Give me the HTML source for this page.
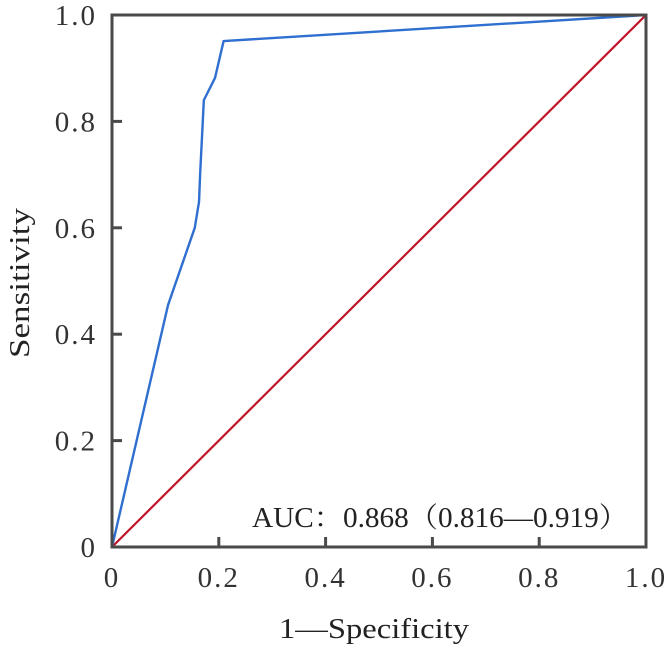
<!DOCTYPE html>
<html><head><meta charset="utf-8"><style>
html,body{margin:0;padding:0;background:#fff;}
svg{display:block;font-family:"Liberation Serif","Noto Serif CJK SC",serif;}
</style></head><body>
<svg id="chart" width="667" height="658" viewBox="0 0 667 658" xmlns="http://www.w3.org/2000/svg"></svg>
<script>
const xTicks=[0,0.2,0.4,0.6,0.8,1.0];
const yTicks=[0,0.2,0.4,0.6,0.8,1.0];
const xTickLabels=["0","0.2","0.4","0.6","0.8","1.0"];
const yTickLabels=["0","0.2","0.4","0.6","0.8","1.0"];
const rocX=[0,0.105,0.155,0.163,0.165,0.172,0.193,0.209,1];
const rocY=[0,0.455,0.6,0.649,0.70,0.84,0.882,0.951,1];
const refX=[0,1];
const refY=[0,1];
const L=112,R=646,T=15,B=547;
const sx=v=>L+v*(R-L), sy=v=>B-v*(B-T);
const svg=document.getElementById('chart');
const NS='http://www.w3.org/2000/svg';
function mk(tag,attrs,parent){const e=document.createElementNS(NS,tag);for(const k in attrs)e.setAttribute(k,attrs[k]);(parent||svg).appendChild(e);return e;}
const ref=mk('polyline',{points:refX.map((x,i)=>sx(x)+','+sy(refY[i])).join(' '),fill:'none',stroke:'#c0142a','stroke-width':2.2});


const roc=mk('polyline',{points:rocX.map((x,i)=>sx(x)+','+sy(rocY[i])).join(' '),fill:'none',stroke:'#2f6fcf','stroke-width':2.4,'stroke-linejoin':'round'});


const frame=mk('rect',{x:L,y:T,width:R-L,height:B-T,fill:'none',stroke:'#4a4a4a','stroke-width':3});


xTicks.forEach((v,i)=>{
  if(i>0&&i<xTicks.length-1){const t=mk('line',{x1:sx(v),x2:sx(v),y1:B,y2:B-10,stroke:'#4a4a4a','stroke-width':3});
  
  }
  const tx=mk('text',{x:sx(v),y:587,'text-anchor':'middle','font-size':29,'letter-spacing':2,fill:'#333'});tx.textContent=xTickLabels[i];
  
  
});
yTicks.forEach((v,i)=>{
  if(i>0&&i<yTicks.length-1){const t=mk('line',{x1:L,x2:L+10,y1:sy(v),y2:sy(v),stroke:'#4a4a4a','stroke-width':3});
  
  }
  const tx=mk('text',{x:97,y:sy(v)+10,'text-anchor':'end','font-size':29,'letter-spacing':2,fill:'#333'});tx.textContent=yTickLabels[i];
  
  
});
const xt=mk('text',{x:279,y:638,'font-size':29,fill:'#222',textLength:190,lengthAdjust:'spacingAndGlyphs'});xt.textContent='1—Specificity';


const yt=mk('text',{x:0,y:0,'text-anchor':'middle','font-size':29,fill:'#222',textLength:150,lengthAdjust:'spacingAndGlyphs',transform:'translate(29,283) rotate(-90)'});yt.textContent='Sensitivity';


const auc=mk('text',{x:252,y:527,'font-size':28,fill:'#222',textLength:376,lengthAdjust:'spacingAndGlyphs'});auc.textContent='AUC：0.868（0.816—0.919）';


</script>
</body></html>
